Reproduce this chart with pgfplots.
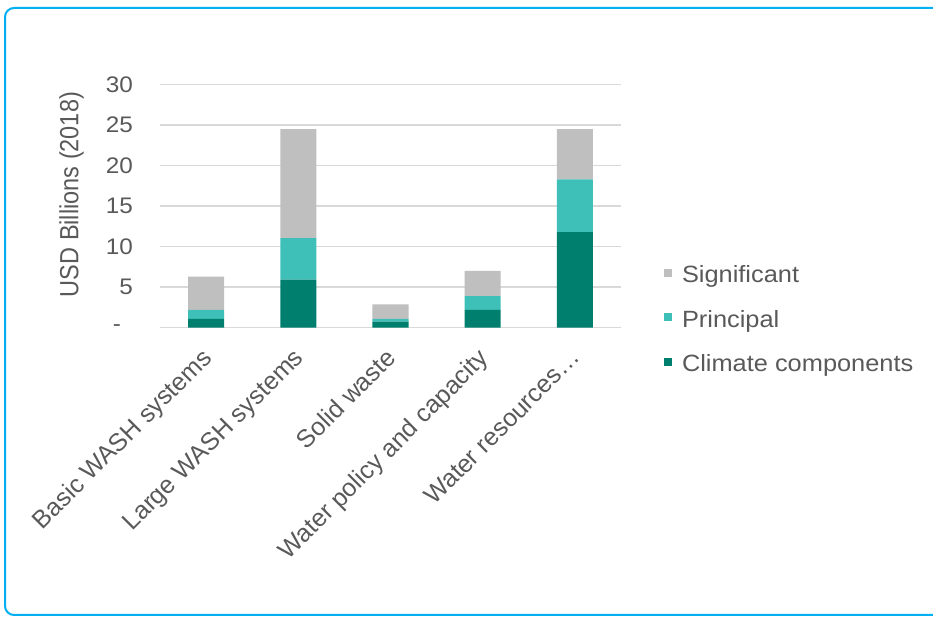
\documentclass[border=0pt]{standalone}
\usepackage{pgfplots}
\pgfplotsset{compat=1.18}
\usepackage{fontspec}
\setmainfont{Liberation Sans}
\newfontfamily\widefont{Liberation Sans}[FakeStretch=1.08]

\definecolor{txt}{HTML}{595959}
\definecolor{gridgray}{HTML}{D9D9D9}
\definecolor{sig}{HTML}{BFBFBF}
\definecolor{prin}{HTML}{3EC0B8}
\definecolor{clim}{HTML}{007F6E}
\definecolor{framecol}{HTML}{00B0F0}

\begin{document}
\begin{tikzpicture}
\useasboundingbox (0bp,0bp) rectangle (933bp,617bp);
% outer frame of the chart card
\draw[framecol, line width=2bp, rounded corners=9bp] (5bp,2bp) rectangle (960bp,609bp);
\begin{axis}[
  at={(160bp,289.3bp)}, anchor=south west,
  scale only axis, width=461bp, height=243bp,
  xmin=-0.5, xmax=4.5, ymin=0, ymax=30,
  ybar stacked, bar width=36bp,
  axis line style={draw=none},
  major tick length=0pt,
  ymajorgrids, grid style={gridgray, line width=1.5bp},
  xtick={0,1,2,3,4},
  xticklabels={Basic WASH systems, Large WASH systems, Solid waste, Water policy and capacity, Water resources…},
  ytick={0,5,10,15,20,25,30},
  yticklabels={{\makebox[20bp][l]{-}},5,10,15,20,25,30},
  /pgf/number format/assume math mode=true,
  tick label style={text=txt, inner sep=0pt},
  yticklabel style={font=\widefont\fontsize{22.5bp}{27bp}\selectfont, anchor=east, xshift=-27bp},
  xticklabel style={font=\fontsize{25bp}{30bp}\selectfont, xshift=-6bp, yshift=-19bp, rotate=45, anchor=north east},
  ylabel={USD Billions (2018)},
  ylabel style={at={(axis description cs:-0.192,0.548)}, anchor=center,
    font=\fontsize{23.5bp}{28bp}\selectfont, text=txt, yscale=1.12},
  legend style={at={(axis description cs:1.0933,0.256)}, anchor=north west,
    draw=none, fill=none, inner sep=0pt, outer sep=0pt,
    font=\widefont\fontsize{23.5bp}{28bp}\selectfont, text=txt,
    row sep=22.6bp, nodes={inner sep=0pt, text height=17bp, text depth=5bp},
    /tikz/every odd column/.append style={column sep=10bp}},
  legend cell align=left, reverse legend,
  legend image code/.code={\path[#1, draw=none] (0bp,-0.4bp) rectangle (8bp,7.6bp);},
]
\addplot[fill=clim, draw=none] coordinates {(0,1.1) (1,5.95) (2,0.74) (3,2.2) (4,11.8)};
\addlegendentry{Climate components}
\addplot[fill=prin, draw=none] coordinates {(0,1.1) (1,5.1) (2,0.36) (3,1.7) (4,6.5)};
\addlegendentry{Principal}
\addplot[fill=sig, draw=none] coordinates {(0,4.1) (1,13.45) (2,1.78) (3,3.1) (4,6.2)};
\addlegendentry{Significant}
% baseline drawn over the bar feet
\draw[gridgray, line width=1.5bp] (axis cs:-0.5,0) -- (axis cs:4.5,0);
\end{axis}
\end{tikzpicture}
\end{document}
